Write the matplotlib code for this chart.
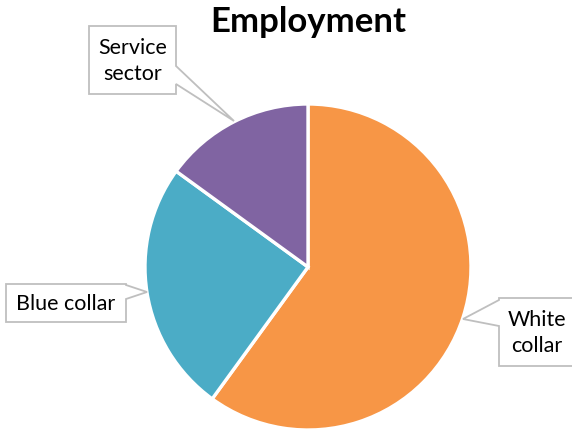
import matplotlib.pyplot as plt
from matplotlib.patches import Polygon

# data
labels = ['White collar', 'Blue collar', 'Service sector']
shares = [60, 25, 15]
colors = ['#F79646', '#4BACC6', '#8064A2']
label_text = ['White\ncollar', 'Blue collar', 'Service\nsector']

# callout geometry in pixels (y measured from top): box x0, x1, y0, y1,
# side the pointer leaves from, pointer base (top, bottom) and tip
callouts = [
    dict(box=(499, 574, 299, 367), side='left', base=(301, 327), tip=(463, 320)),
    dict(box=(6, 126, 285, 323), side='right', base=(286, 300), tip=(147, 293)),
    dict(box=(89, 176, 27, 95), side='right', base=(67, 85), tip=(234, 122)),
]

W, H = 572, 431
fig = plt.figure(figsize=(W / 100, H / 100), dpi=100)
ax = fig.add_axes([0, 0, 1, 1])

ax.pie(shares, colors=colors, startangle=90, counterclock=False,
       center=(308, H - 268), radius=163,
       wedgeprops=dict(edgecolor='white', linewidth=2.4))
ax.set_xlim(0, W)
ax.set_ylim(0, H)
ax.set_aspect('auto')
ax.axis('off')

for txt, c in zip(label_text, callouts):
    x0, x1, y0, y1 = c['box']
    b0, b1 = c['base']
    tx, ty = c['tip']
    Y = lambda v: H - v
    if c['side'] == 'right':
        pts = [(x0, Y(y0)), (x1, Y(y0)), (x1, Y(b0)), (tx, Y(ty)),
               (x1, Y(b1)), (x1, Y(y1)), (x0, Y(y1))]
    else:
        pts = [(x0, Y(y0)), (x1, Y(y0)), (x1, Y(y1)), (x0, Y(y1)),
               (x0, Y(b1)), (tx, Y(ty)), (x0, Y(b0))]
    ax.add_patch(Polygon(pts, closed=True, fc='white', ec='#bfbfbf', lw=1.3,
                         joinstyle='miter', zorder=3))
    ax.text((x0 + min(x1, W)) / 2 + (1 if x1 > W else 0), Y((y0 + y1) / 2), txt,
            ha='center', va='center', fontsize=15.5, family='Lato',
            linespacing=1.4, zorder=4)

fig.text(308 / W, 1 - 22 / H, 'Employment', ha='center', va='center',
         fontsize=25, fontweight='bold', family='Lato')

fig.savefig('out.png', dpi=100)
